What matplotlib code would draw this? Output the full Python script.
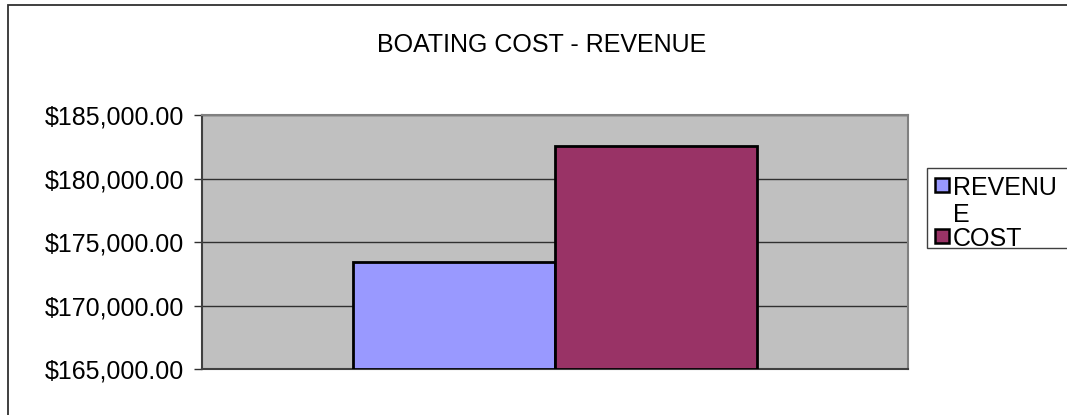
import matplotlib
matplotlib.use("Agg")
import matplotlib.pyplot as plt
from matplotlib.patches import Rectangle
from matplotlib.ticker import FuncFormatter

series = ["REVENUE", "COST"]
values = [173450, 182560]
colors = ["#9999FF", "#993366"]
title = "BOATING COST - REVENUE"
yticks = [165000, 170000, 175000, 180000, 185000]

plt.rcParams['font.family'] = ['Liberation Sans', 'DejaVu Sans']
W, H = 1067, 415
FS = 18
fig = plt.figure(figsize=(W/100, H/100), dpi=100)
fig.patch.set_facecolor("white")

def px(x, y):
    return (x / W, 1 - y / H)

# outer chart border (right/bottom beyond image)
fig.add_artist(Rectangle(px(8, 430), 1100/W, 425/H, transform=fig.transFigure,
                         fill=False, edgecolor="#303030", linewidth=1.3))

ax = fig.add_axes([202/W, 1-369/H, 706/W, 254/H])
ax.set_facecolor("#C0C0C0")
bw = 0.286
xs = [-bw/2, bw/2]
for x, v, c in zip(xs, values, colors):
    ax.bar(x, v - yticks[0], bottom=yticks[0], width=bw, color=c,
           edgecolor="black", linewidth=2, zorder=3)
ax.set_xlim(-0.5, 0.5)
ax.set_ylim(yticks[0], yticks[-1])
ax.set_yticks(yticks)
ax.yaxis.set_major_formatter(FuncFormatter(lambda v, p: f"${v:,.2f}"))
ax.tick_params(axis='y', labelsize=FS, length=6, width=1, color="#303030", pad=7)
ax.set_xticks([])
ax.grid(axis='y', color="#303030", linewidth=1, zorder=1)
for s in ax.spines.values():
    s.set_color("#808080")
    s.set_linewidth(1.5)
ax.spines['left'].set_color("#404040")
ax.spines['bottom'].set_color("#404040")

fig.text(*px(542, 52), title, ha="center", va="baseline", fontsize=FS)

# legend (drawn manually, Excel-style with wrapped label)
fig.add_artist(Rectangle(px(927, 248), 200/W, 80/H, transform=fig.transFigure,
                         fill=True, facecolor="white", edgecolor="#404040", linewidth=1.0))
def wrap(s):
    return [s[:6], s[6:]] if len(s) > 6 else [s]
sq_tops = [178, 229]
line_bases = [[195, 222], [246]]
for s, c, top, bases in zip(series, colors, sq_tops, line_bases):
    fig.add_artist(Rectangle(px(935, top + 14), 14/W, 14/H, transform=fig.transFigure,
                             facecolor=c, edgecolor="black", linewidth=1.8))
    for part, b in zip(wrap(s), bases):
        fig.text(*px(953, b), part, ha="left", va="baseline", fontsize=FS)

fig.savefig("out.png", dpi=100)
